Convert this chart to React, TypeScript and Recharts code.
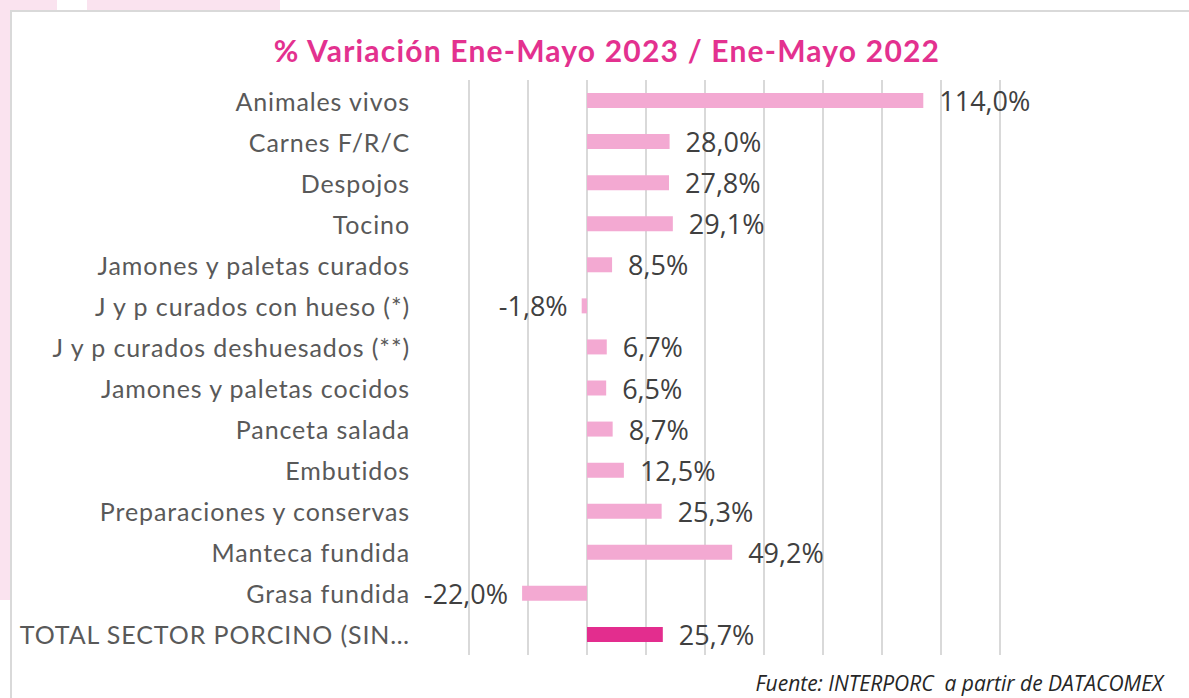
import React from 'react';
import { BarChart, Bar, XAxis, YAxis, CartesianGrid, Cell, LabelList } from 'recharts';

const categories = [
  'Animales vivos',
  'Carnes F/R/C',
  'Despojos',
  'Tocino',
  'Jamones y paletas curados',
  'J y p curados con hueso (*)',
  'J y p curados deshuesados (**)',
  'Jamones y paletas cocidos',
  'Panceta salada',
  'Embutidos',
  'Preparaciones y conservas',
  'Manteca fundida',
  'Grasa fundida',
  'TOTAL SECTOR PORCINO (SIN…',
];

const variation = [114.0, 28.0, 27.8, 29.1, 8.5, -1.8, 6.7, 6.5, 8.7, 12.5, 25.3, 49.2, -22.0, 25.7];

const gridTicks = [-40, -20, 0, 20, 40, 60, 80, 100, 120, 140];

const data = categories.map((name, i) => ({ name, value: variation[i] }));

const LIGHT = '#f3a9d2';
const TOTAL = '#e32d8e';

const fmt = (v: number) => v.toFixed(1).replace('.', ',') + '%';

function CategoryTick(props: any) {
  const { y, payload } = props;
  return (
    <text
      x={410}
      y={y}
      textAnchor="end"
      dominantBaseline="central"
      fontFamily="Lato, sans-serif"
      fontSize={25}
      letterSpacing={0.9}
      fill="#595959"
    >
      {payload.value}
    </text>
  );
}

function ValueLabel(props: any) {
  const { x, y, width, height, value } = props;
  const left = Math.min(x, x + width);
  const right = Math.max(x, x + width);
  const neg = value < 0;
  return (
    <text
      x={neg ? left - 14 : right + 16}
      y={y + height / 2}
      textAnchor={neg ? 'end' : 'start'}
      dominantBaseline="central"
      fontFamily="'Open Sans', sans-serif"
      fontSize={27}
      fill="#404040"
    >
      {fmt(value)}
    </text>
  );
}

export default function App() {
  return (
    <div style={{ position: 'absolute', left: 0, top: 0, width: 1189, height: 698, background: '#fff', overflow: 'hidden' }}>
      {/* decorative pink background behind the chart box */}
      <div style={{ position: 'absolute', left: 0, top: 0, width: 57, height: 600, background: '#fae3ef' }} />
      <div style={{ position: 'absolute', left: 87, top: 0, width: 193, height: 12, background: '#fae3ef' }} />
      <div
        style={{
          position: 'absolute',
          left: 10,
          top: 10,
          width: 1200,
          height: 720,
          background: '#fff',
          border: '2px solid #d9d9d9',
        }}
      />
      <div
        style={{
          position: 'absolute',
          left: 0,
          width: 1214,
          top: 30,
          textAlign: 'center',
          fontFamily: 'Lato, sans-serif',
          fontWeight: 700,
          fontSize: 30,
          letterSpacing: 1.2,
          color: '#e3318f',
          lineHeight: '40px',
        }}
      >
        % Variación Ene-Mayo 2023 / Ene-Mayo 2022
      </div>
      <div style={{ position: 'absolute', left: 0, top: 0 }}>
        <BarChart
          width={1189}
          height={698}
          data={data}
          layout="vertical"
          margin={{ top: 80, right: 189, bottom: 43, left: 0 }}
          barSize={15}
        >
          <CartesianGrid horizontal={false} stroke="#d9d9d9" strokeWidth={2} />
          <XAxis
            type="number"
            domain={[-40, 140]}
            ticks={gridTicks}
            interval={0}
            axisLine={false}
            tickLine={false}
            tick={{ fill: 'none', fontSize: 1 }}
            height={0}
          />
          <YAxis
            type="category"
            dataKey="name"
            width={469}
            axisLine={false}
            tickLine={false}
            tick={<CategoryTick />}
            interval={0}
          />
          <Bar dataKey="value" isAnimationActive={false}>
            {data.map((d, i) => (
              <Cell key={d.name} fill={i === data.length - 1 ? TOTAL : LIGHT} />
            ))}
            <LabelList dataKey="value" content={<ValueLabel />} />
          </Bar>
        </BarChart>
      </div>
      <div
        style={{
          position: 'absolute',
          right: 26,
          top: 669,
          fontFamily: "'Open Sans', sans-serif",
          fontStyle: 'italic',
          fontSize: 21,
          color: '#262626',
          whiteSpace: 'pre',
        }}
      >
        Fuente: INTERPORC  a partir de DATACOMEX
      </div>
    </div>
  );
}
